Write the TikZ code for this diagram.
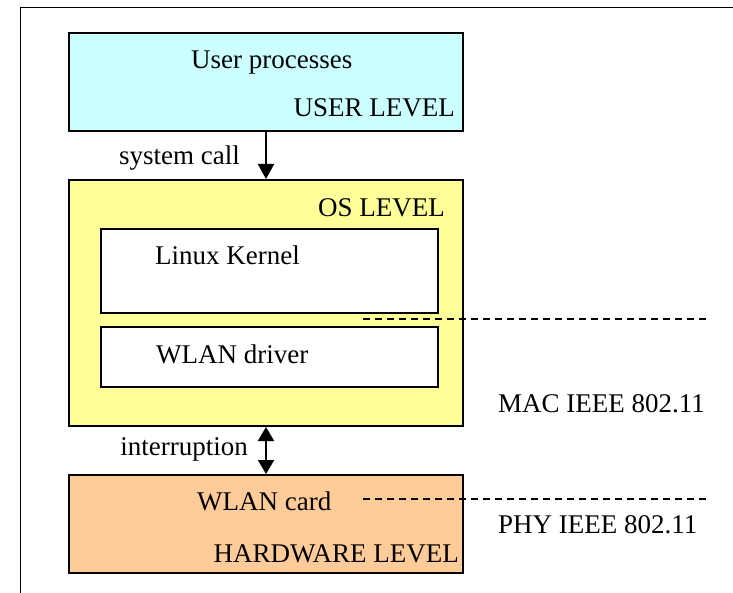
\documentclass[tikz,border=0pt]{standalone}
\usepackage{fontspec}
\setmainfont{Liberation Serif}
\usepackage{tikz}
\usetikzlibrary{arrows.meta,positioning}
\definecolor{corusuario}{RGB}{204,255,255}
\definecolor{corso}{RGB}{255,255,153}
\definecolor{corhw}{RGB}{255,204,153}

\begin{document}
\begin{tikzpicture}[
  x=1pt, y=-1pt,
  nivel/.style={rectangle, draw=black, line width=2pt, minimum width=394pt,
                inner sep=0pt},
  interno/.style={rectangle, draw=black, line width=2pt, fill=white,
                  minimum width=337pt, inner sep=0pt},
  texto/.style={inner sep=0pt, font=\rmfamily\fontsize{27}{32}\selectfont},
  seta/.style={-{Triangle[length=15pt,width=16pt]}, line width=2pt},
  setadupla/.style={{Triangle[length=14pt,width=16pt]}-{Triangle[length=14pt,width=16pt]}, line width=2pt},
  tracejado/.style={dashed, dash pattern=on 7pt off 5pt, line width=1.5pt}
]
  \useasboundingbox (0,0) rectangle (733,593);
  % moldura
  \draw[line width=1pt] (20,593) -- (20,7.5) -- (733,7.5);

  % niveis
  \node[nivel, fill=corusuario, minimum height=98pt] (usuario) at (266,82) {};
  \node[nivel, fill=corso, minimum height=246pt] (so) at (266,303) {};
  \node[nivel, fill=corhw, minimum height=98pt] (hw) at (266,524) {};
  \node[interno, minimum height=84pt] (kernel) at (269.5,271) {};
  \node[interno, minimum height=59pt] (driver) at (269.5,357) {};

  % textos
  \node[texto, anchor=base west] (tproc) at (191,69) {User processes};
  \node[texto, anchor=base east] (tuser) at (455,117) {USER LEVEL};
  \node[texto, anchor=base east] (tos) at (445,217) {OS LEVEL};
  \node[texto, anchor=base west] (tkernel) at (155,265) {Linux Kernel};
  \node[texto, anchor=base west] (tdriver) at (156,363) {WLAN driver};
  \node[texto, anchor=base west] (tcard) at (197,510) {WLAN card};
  \node[texto, anchor=base east] (thw) at (459,562) {HARDWARE LEVEL};
  \node[texto, anchor=base west] (tmac) at (498,412) {MAC IEEE 802.11};
  \node[texto, anchor=base west] (tphy) at (498,533) {PHY IEEE 802.11};
  \node[texto, anchor=base east] (tsys) at (240,165) {system call};
  \node[texto, anchor=base east] (tint) at (248,455) {interruption};

  % chamadas
  \draw[seta] (usuario) -- (so);
  \draw[setadupla] (so) -- (hw);

  % fronteiras MAC / PHY
  \coordinate (macini) at (363,319);
  \coordinate (macfim) at (710,319);
  \coordinate (phyini) at (363,499);
  \coordinate (phyfim) at (710,499);
  \draw[tracejado] (macini) -- (macfim);
  \draw[tracejado] (phyini) -- (phyfim);
\end{tikzpicture}
\end{document}
